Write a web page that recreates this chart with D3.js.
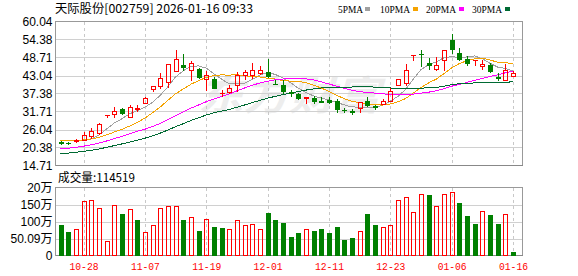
<!DOCTYPE html>
<html><head><meta charset="utf-8">
<script src="https://cdn.jsdelivr.net/npm/d3@7"></script>
<style>
html,body{margin:0;padding:0;background:#fff;}
svg{display:block;}
</style></head><body>
<svg id="c" width="578" height="276"></svg>
<script>
// ---------- data ----------
const dates = ["10-23","10-24","10-27","10-28","10-29","10-30","10-31","11-03","11-04","11-05","11-06","11-07",
"11-10","11-11","11-12","11-13","11-14","11-17","11-18","11-19","11-20","11-21","11-24","11-25","11-26","11-27","11-28",
"12-01","12-02","12-03","12-04","12-05","12-08","12-09","12-10","12-11","12-12","12-15","12-16","12-17","12-18","12-19",
"12-22","12-23","12-24","12-25","12-26","12-29","12-30","12-31","01-05","01-06","01-07","01-08","01-09","01-12","01-13",
"01-14","01-15","01-16"];
const open  = [21.96,21.95,22.3,22.8,24.1,24.9,30.5,31.0,32.4,30.0,32.4,34.3,38.7,39.7,41.1,44.6,46.5,44.8,45.2,41.8,
42.0,37.5,37.8,40.1,43.2,43.2,43.9,44.3,40.4,40.1,37.7,37.1,35.9,35.9,34.9,35.4,34.9,32.3,31.75,32.8,
35.1,33.3,34.1,35.0,40.1,40.7,49.5,49.8,47.1,45.0,48.0,54.1,50.2,48.3,47.9,46.1,46.2,42.5,41.7,43.0];
const high  = [22.3,22.2,22.9,25.1,26.4,28.1,30.6,33.1,32.9,33.7,33.7,36.3,39.8,43.9,46.8,51.2,49.7,47.6,45.3,44.4,
42.5,38.6,39.9,44.1,44.8,46.9,45.9,48.1,41.7,41.5,38.6,37.5,36.4,36.7,36.3,36.2,35.6,32.9,32.4,34.8,
36.3,33.9,35.5,39.0,42.0,46.7,49.6,51.1,48.6,48.9,51.2,56.2,51.8,49.3,48.0,47.8,47.0,43.9,46.6,44.6];
const low   = [21.6,21.6,22.2,22.6,23.3,24.5,29.9,29.9,31.0,30.0,31.8,34.3,38.1,39.2,39.4,44.6,44.9,41.7,42.3,38.6,
39.1,36.5,37.4,38.3,42.0,42.3,43.6,42.7,40.3,37.5,36.7,35.8,34.3,34.5,34.7,34.5,31.5,31.5,31.0,31.7,
33.3,32.5,34.0,34.9,40.1,40.1,47.9,45.9,45.2,44.8,44.8,50.1,48.0,46.4,46.2,45.0,44.1,41.5,41.7,43.0];
const close = [21.93,21.9,22.7,24.4,25.5,27.8,30.6,32.0,31.2,33.2,32.9,36.0,39.7,42.2,46.7,48.3,45.7,47.0,42.5,43.3,
39.2,37.6,39.2,43.3,44.0,44.8,44.8,43.0,40.3,38.3,37.5,36.1,36.3,34.9,34.8,34.6,32.4,32.2,31.7,34.6,
33.8,33.2,35.0,38.3,42.0,44.8,49.6,49.7,46.3,46.4,51.1,51.5,48.3,47.1,48.0,46.6,44.4,42.4,44.9,43.8];
const ma5  = [22.63,22.45,22.43,22.75,23.1,24.3,26.2,28.06,29.42,30.96,31.98,33.06,34.6,36.8,39.5,42.58,44.52,45.98,46.04,45.36,
43.54,41.92,40.36,40.52,40.66,41.78,43.22,43.98,43.38,42.24,40.78,39.04,37.7,36.62,35.92,35.34,34.6,33.78,33.14,33.1,
32.94,33.1,33.66,34.98,36.46,38.66,41.94,44.88,46.48,47.36,48.62,49.0,48.72,48.88,49.2,48.3,46.88,45.7,45.26,44.42];
const ma10 = [22.71,22.62,22.61,22.77,23.04,23.54,24.32,25.24,26.08,27.12,28.22,29.63,31.33,33.11,35.23,37.28,38.79,40.29,41.42,42.43,
43.06,43.22,43.17,43.28,43.01,42.66,42.57,42.17,41.95,41.45,41.28,41.13,40.84,40.0,39.08,38.06,36.82,35.74,34.88,34.51,
34.14,33.85,33.72,34.06,34.78,35.8,37.52,39.27,40.73,41.91,43.64,45.47,46.8,47.68,48.28,48.46,47.94,47.21,47.07,46.81];
const ma20 = [19.9,20.14,20.42,20.79,21.21,21.74,22.42,23.16,23.87,24.67,25.46,26.12,26.97,27.94,29.13,30.41,31.55,32.76,33.75,34.78,
35.64,36.43,37.25,38.2,39.12,39.97,40.68,41.23,41.69,41.94,42.17,42.18,42.0,41.64,41.05,40.36,39.7,38.96,38.42,37.98,
37.71,37.49,37.28,37.03,36.93,36.93,37.17,37.5,37.8,38.21,38.89,39.66,40.26,40.87,41.53,42.13,42.73,43.24,43.9,44.36];
const ma30 = [18.4,18.62,18.86,19.16,19.5,19.91,20.42,20.97,21.5,22.09,22.67,23.3,24.06,24.89,25.88,26.92,27.87,28.87,29.72,30.59,
31.33,31.82,32.37,33.05,33.76,34.49,35.23,35.9,36.48,37.0,37.52,37.99,38.45,38.8,39.11,39.33,39.39,39.4,39.42,39.46,
39.49,39.4,39.24,39.11,38.96,38.84,38.97,39.06,39.19,39.29,39.69,40.15,40.45,40.58,40.71,40.77,40.76,40.74,40.89,41.08];
// volume in 万手
const volume = [89,69,77,160,165,141,42,148,122,138,104,69,91,141,147,145,104,112,72,109,
83,80,77,104,91,94,77,125,104,95,54,66,79,72,77,66,83,45,51,72,
122,89,83,89,163,173,127,182,178,145,180,186,155,116,92,130,119,92,121,11.4519];
// u = up vs previous close (red), d = down (green)
const volDir = "ddu" + "uuuuududu" + "uuuudud" + "uddu" + "uuuu" + "dddddudddddd" + "uddu" + "uuuuudu" + "uudddudd" + "ud";
const priceTicks = ["60.04","54.38","48.71","43.04","37.38","31.71","26.04","20.38","14.71"];
const volTicks = [0,50.09,100.18,150.27,200.36];
const volTickLabels = ["0","50.09万","100万","150万","20万"];
const dateLabels = ["10-28","11-07","11-19","12-01","12-11","12-23","01-06","01-16"];
const titleText = "天际股份[002759] 2026-01-16 09:33";
const volTitle = "成交量:114519";
const maNames = ["5PMA","10PMA","20PMA","30PMA"];
const watermark = "东方财富";

// ---------- layout ----------
const RED = "#ff0000", GREEN = "#008000";
const maColors = ["#a0a0a0","#f5a300","#ff00ff","#006a33"];
const L = 55.5, R = 522.5, PT = 21.5, PB = 165.5, VT = 187.5, VB = 255.5;
const svg = d3.select("#c");
const x = d3.scalePoint().domain(dates).range([60.5, 513]);
const y = d3.scaleLinear().domain([+priceTicks[8], +priceTicks[0]]).range([PB, PT]);
const yv = d3.scaleLinear().domain([0, volTicks[4]]).range([VB, VT]);
const px = d => Math.round(x(d));
const cjk = "'Noto Sans CJK SC', sans-serif";

// title
svg.append("text").attr("x", 55).attr("y", 13).attr("font-family", cjk).attr("font-size", 12)
  .attr("fill", "#000").attr("textLength", 198).attr("lengthAdjust", "spacingAndGlyphs").text(titleText);
// legend
const legX = [338, 380, 426, 472], legW = [25, 30, 30, 30], legSq = [365, 413, 459, 505];
maNames.forEach((n, i) => {
  svg.append("text").attr("x", legX[i]).attr("y", 13).attr("font-family", "'Liberation Serif', serif")
    .attr("font-size", 11).attr("fill", "#000").attr("textLength", legW[i]).attr("lengthAdjust", "spacingAndGlyphs").text(n);
  svg.append("rect").attr("x", legSq[i]).attr("y", 7).attr("width", 5).attr("height", 4).attr("fill", maColors[i]);
});

// watermark
svg.append("text").attr("x", 198).attr("y", 110).attr("font-family", cjk).attr("font-size", 40)
  .attr("font-weight", "bold").attr("font-style", "italic").attr("fill", "#ededed")
  .attr("textLength", 182).attr("lengthAdjust", "spacingAndGlyphs").text(watermark);

// grid (price)
const g = svg.append("g").attr("shape-rendering", "crispEdges");
priceTicks.slice(1, 8).forEach(t => {
  const yy = Math.round(y(+t)) + 0.5;
  g.append("line").attr("x1", L).attr("x2", R).attr("y1", yy).attr("y2", yy).attr("stroke", "#d0d0d0");
});
volTicks.slice(1, 4).forEach(t => {
  const yy = Math.round(yv(t)) + 0.5;
  g.append("line").attr("x1", L).attr("x2", R).attr("y1", yy).attr("y2", yy).attr("stroke", "#d0d0d0");
});
dateLabels.forEach(d => {
  const xx = px(d) + 0.5;
  g.append("line").attr("x1", xx).attr("x2", xx).attr("y1", PT).attr("y2", PB).attr("stroke", "#c8c8c8").attr("stroke-dasharray", "3,3");
  g.append("line").attr("x1", xx).attr("x2", xx).attr("y1", VT).attr("y2", VB).attr("stroke", "#c8c8c8").attr("stroke-dasharray", "3,3");
});
// borders
g.append("rect").attr("x", L).attr("y", PT).attr("width", R - L).attr("height", PB - PT).attr("fill", "none").attr("stroke", "#999");
g.append("rect").attr("x", L).attr("y", VT).attr("width", R - L).attr("height", VB - VT).attr("fill", "none").attr("stroke", "#999");
g.append("line").attr("x1", L).attr("x2", R).attr("y1", VB).attr("y2", VB).attr("stroke", "#888");
g.append("line").attr("x1", L).attr("x2", R).attr("y1", PB).attr("y2", PB).attr("stroke", "#888");

// y axes
const ax = svg.append("g").attr("transform", `translate(${L},0)`)
  .call(d3.axisLeft(y).tickValues(priceTicks.map(Number)).tickFormat(d => d.toFixed(2)).tickSize(0).tickPadding(3));
ax.select(".domain").remove();
ax.selectAll("text").attr("font-family", "'Liberation Sans', Arial, sans-serif").attr("font-size", 12).attr("fill", "#000");
const axv = svg.append("g").attr("transform", `translate(${L},0)`)
  .call(d3.axisLeft(yv).tickValues(volTicks).tickFormat((d, i) => volTickLabels[i]).tickSize(0).tickPadding(3));
axv.select(".domain").remove();
axv.selectAll("text").attr("font-family", "'Liberation Sans', " + cjk).attr("font-size", 12).attr("fill", "#000");

// date labels
const axx = svg.append("g").attr("transform", `translate(0,${VB})`)
  .call(d3.axisBottom(x).tickValues(dateLabels).tickSize(0).tickPadding(7));
axx.select(".domain").remove();
axx.selectAll("text").attr("font-family", "'Liberation Mono', monospace").attr("font-size", 11).attr("fill", RED)
  .attr("textLength", 29).attr("lengthAdjust", "spacingAndGlyphs");

// volume title
svg.append("text").attr("x", 58).attr("y", 182).attr("font-family", cjk).attr("font-size", 12).attr("fill", "#000")
  .attr("textLength", 77).attr("lengthAdjust", "spacingAndGlyphs").text(volTitle);

// MA lines
const maAll = [ma5, ma10, ma20, ma30];
maAll.forEach((arr, k) => {
  const line = d3.line().x((d, i) => x(dates[i])).y(d => y(d));
  svg.append("path").attr("d", line(arr)).attr("fill", "none").attr("stroke", maColors[k])
    .attr("stroke-width", 1).attr("shape-rendering", "crispEdges");
});

// candles
const cg = svg.append("g").attr("shape-rendering", "crispEdges");
dates.forEach((d, i) => {
  const cx = px(d);
  const o = open[i], c = close[i];
  const up = c >= o;
  const col = up ? RED : GREEN;
  const top = Math.round(y(Math.max(o, c))), bot = Math.round(y(Math.min(o, c)));
  const hy = Math.round(y(high[i])), ly = Math.round(y(low[i]));
  if (bot - top < 1) {
    cg.append("line").attr("x1", cx + 0.5).attr("x2", cx + 0.5).attr("y1", hy).attr("y2", ly + 1).attr("stroke", col);
    cg.append("line").attr("x1", cx - 2).attr("x2", cx + 3).attr("y1", top + 0.5).attr("y2", top + 0.5).attr("stroke", col);
    return;
  }
  if (hy < top) cg.append("line").attr("x1", cx + 0.5).attr("x2", cx + 0.5).attr("y1", hy).attr("y2", top).attr("stroke", col);
  if (ly > bot) cg.append("line").attr("x1", cx + 0.5).attr("x2", cx + 0.5).attr("y1", bot).attr("y2", ly + 1).attr("stroke", col);
  if (up) {
    cg.append("rect").attr("x", cx - 1.5).attr("y", top + 0.5).attr("width", 4).attr("height", bot - top)
      .attr("fill", "none").attr("stroke", RED);
  } else {
    cg.append("rect").attr("x", cx - 2).attr("y", top).attr("width", 5).attr("height", bot - top + 1).attr("fill", GREEN);
  }
});

// volume bars
dates.forEach((d, i) => {
  const cx = px(d);
  const ty = Math.round(yv(volume[i]));
  if (volDir[i] === "u") {
    cg.append("rect").attr("x", cx - 1.5).attr("y", ty + 0.5).attr("width", 4).attr("height", Math.max(0, Math.round(VB) - ty - 1))
      .attr("fill", "none").attr("stroke", RED);
  } else {
    cg.append("rect").attr("x", cx - 2).attr("y", ty).attr("width", 5).attr("height", Math.round(VB) - ty).attr("fill", GREEN);
  }
});
</script>
</body></html>
